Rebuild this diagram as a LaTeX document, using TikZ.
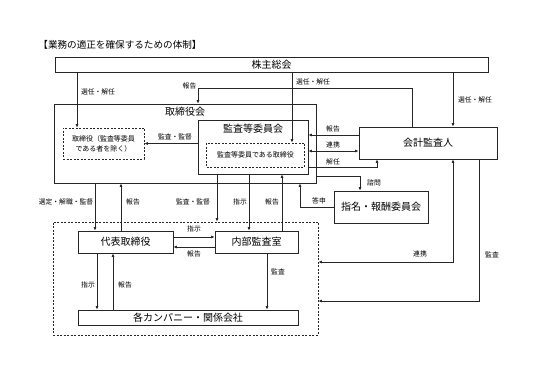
\documentclass[tikz,border=0pt]{standalone}
\usepackage{fontspec}
\setmainfont{Noto Sans CJK JP}
\usetikzlibrary{arrows.meta,calc}
\begin{document}
\begin{tikzpicture}[x=1pt,y=-1pt,
  box/.style={draw=black!85, line width=0.7pt, inner sep=0pt, font=\fontsize{10}{12}\selectfont},
  dbox/.style={box, dash pattern=on 2pt off 1.5pt},
  big/.style={inner sep=0pt, font=\fontsize{10}{12}\selectfont},
  lbl/.style={inner sep=0pt, font=\fontsize{6.8}{8}\selectfont},
  arr/.style={line width=0.7pt, draw=black!85, -{Latex[length=3.5pt,width=3pt]}},
  darr/.style={line width=0.7pt, draw=black!85, {Latex[length=3.5pt,width=3pt]}-{Latex[length=3.5pt,width=3pt]}},
]
\useasboundingbox (0,0) rectangle (547,387);
\fill[white] (0,0) rectangle (547,387);

% nodes
\node[inner sep=0pt, font=\fontsize{9.6}{11}\selectfont] (title) at (120,45) {【業務の適正を確保するための体制】};
\node[box, minimum width=433, minimum height=15] (kabu) at (271.5,64.5) {株主総会};
\node[box, minimum width=262, minimum height=79] (tori) at (185,143.5) {};
\node[big] (torilbl) at (185,112) {取締役会};
\node[box, fill=white, minimum width=110, minimum height=54] (kansa) at (253,147) {};
\node[big] (kansalbl) at (253,129) {監査等委員会};
\node[dbox, minimum width=98, minimum height=24, font=\fontsize{7}{9}\selectfont] (kansain) at (255.5,155) {監査等委員である取締役};
\node[dbox, minimum width=81, minimum height=31, align=center, font=\fontsize{7}{10}\selectfont] (torinai) at (103.5,143.5) {取締役（監査等委員\\である者を除く）};
\node[box, minimum width=138, minimum height=32] (kaikei) at (428,143) {会計監査人};
\node[box, minimum width=94, minimum height=32] (shimei) at (381,207) {指名・報酬委員会};
\node[dbox, minimum width=265, minimum height=113] (grp) at (185.5,278.5) {};
\node[box, minimum width=95, minimum height=22] (daihyo) at (125.5,242) {代表取締役};
\node[box, minimum width=83, minimum height=22] (naibu) at (256.5,242) {内部監査室};
\node[box, minimum width=220, minimum height=15] (kaisha) at (188,317.5) {各カンパニー・関係会社};

% helper coordinates
\coordinate (c1) at (77,0);
\coordinate (c2) at (412,88);
\coordinate (c3) at (198,0);
\coordinate (c4) at (292,0);
\coordinate (c5) at (453,0);
\coordinate (c6) at (377,0);
\coordinate (c7) at (360,0);
\coordinate (c8) at (300,0);
\coordinate (c9) at (95,0);
\coordinate (c10) at (121,0);
\coordinate (c11) at (217,0);
\coordinate (c12) at (249,0);
\coordinate (c13) at (282,0);
\coordinate (c14) at (97,0);
\coordinate (c15) at (113,0);
\coordinate (c16) at (267,0);
\coordinate (c18) at (479,0);
\coordinate (r1) at (0,135);
\coordinate (r2) at (0,151);
\coordinate (r3) at (0,167);
\coordinate (r4) at (0,176);
\coordinate (r5) at (0,237);
\coordinate (r6) at (0,247);
\coordinate (r7) at (0,262);
\coordinate (r8) at (0,301);

% connectors
\draw[arr] (c1 |- kabu.south) -- (c1 |- torinai.north);
\draw[arr] (c2 |- kaikei.north) -- (c2) -| (c3 |- tori.north);
\draw[arr] (c4 |- kabu.south) -- (c4 |- kansain.north);
\draw[arr] (c5 |- kabu.south) -- (c5 |- kaikei.north);
\draw[arr] (kansa.west |- torinai.east) -- (torinai.east);
\draw[arr] (kaikei.west |- r1) -- (kansa.east |- r1);
\draw[darr] (kansa.east |- r2) -- (kaikei.west |- r2);
\draw[arr] (kansa.east |- r3) -| (c6 |- kaikei.south);
\draw[arr] (tori.east |- r4) -| (c7 |- shimei.north);
\draw[arr] (shimei.west) -| (c8 |- tori.south);
\draw[arr] (c9 |- tori.south) -- (c9 |- daihyo.north);
\draw[arr] (c10 |- daihyo.north) -- (c10 |- tori.south);
\draw[arr] (c11 |- kansa.south) -- (c11 |- grp.north);
\draw[arr] (c12 |- kansa.south) -- (c12 |- naibu.north);
\draw[arr] (c13 |- naibu.north) -- (c13 |- kansa.south);
\draw[arr] (daihyo.east |- r5) -- (naibu.west |- r5);
\draw[arr] (naibu.west |- r6) -- (daihyo.east |- r6);
\draw[arr] (c14 |- daihyo.south) -- (c14 |- kaisha.north);
\draw[arr] (c15 |- kaisha.north) -- (c15 |- daihyo.south);
\draw[arr] (c16 |- naibu.south) -- (c16 |- kaisha.north);
\draw[darr] (c5 |- kaikei.south) |- (grp.east |- r7);
\draw[arr] (c18 |- kaikei.south) |- (grp.east |- r8);

% labels
\node[lbl] (l1) at (98,92) {選任・解任};
\node[lbl] (l2) at (189.5,86) {報告};
\node[lbl] (l3) at (313,82) {選任・解任};
\node[lbl] (l4) at (475,100) {選任・解任};
\node[lbl] (l5) at (175,137) {監査・監督};
\node[lbl] (l6) at (333,129) {報告};
\node[lbl] (l7) at (333,145) {連携};
\node[lbl] (l8) at (333,162) {解任};
\node[lbl] (l9) at (374,183) {諮問};
\node[lbl] (l10) at (319,201) {答申};
\node[lbl] (l11) at (66,202) {選定・解職・監督};
\node[lbl] (l12) at (133,202) {報告};
\node[lbl] (l13) at (193,202) {監査・監督};
\node[lbl] (l14) at (240,202) {指示};
\node[lbl] (l15) at (272,202) {報告};
\node[lbl] (l16) at (194,229) {指示};
\node[lbl] (l17) at (194,254) {報告};
\node[lbl] (l18) at (88,285) {指示};
\node[lbl] (l19) at (125,285) {報告};
\node[lbl] (l20) at (278,272) {監査};
\node[lbl] (l21) at (420,254) {連携};
\node[lbl] (l22) at (492,255) {監査};
\end{tikzpicture}
\end{document}
